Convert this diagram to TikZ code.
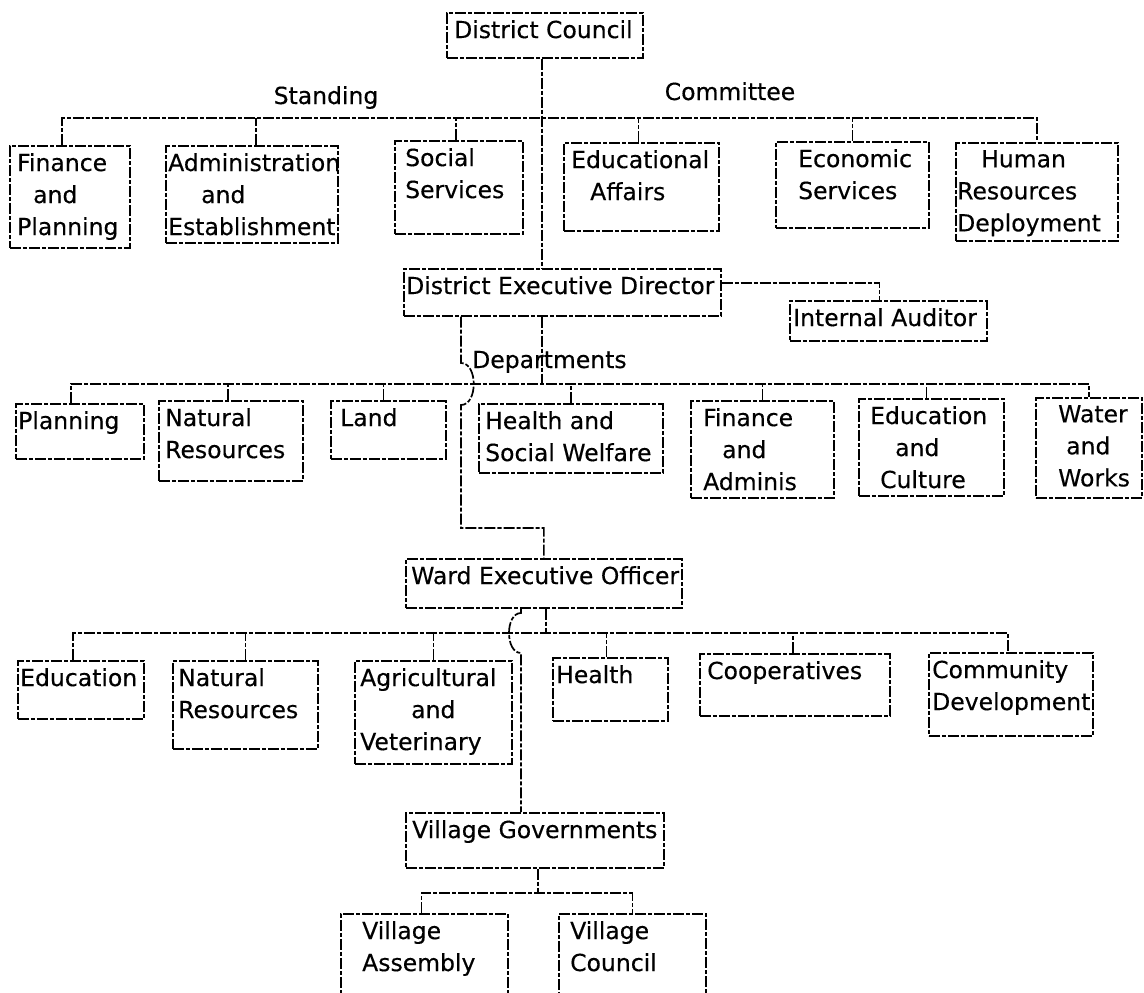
\documentclass[tikz,border=0pt]{standalone}
\usepackage{fontspec}
\setmainfont{DejaVu Sans}[FakeBold=0.35]
\begin{document}
\begin{tikzpicture}[x=1pt,y=-1pt,
  lnk/.style={line width=1.7pt, dash pattern=on 11pt off 2pt on 4pt off 2pt},
  obox/.style={draw, lnk, inner sep=0pt, anchor=north west},
  txt/.style={font=\fontsize{23.5}{32}\selectfont, inner sep=0pt, anchor=north west, align=left},
  lbl/.style={font=\fontsize{23.5}{32}\selectfont, inner sep=0pt}]
\useasboundingbox (0,0) rectangle (1144,993);
\clip (0,0) rectangle (1144,993);
% box macro: name, left, top, right, bottom
\newcommand\mybox[5]{\node[obox, minimum width={(#4-#2)*1pt}, minimum height={(#5-#3)*1pt}] (#1) at (#2,#3) {};}
\newcommand\mytext[4]{\node[txt] (#1-t) at ([shift={(#2pt,-#3pt)}]#1.north west) {#4};}
% ---------- boxes ----------
\mybox{dc}{446}{12}{642}{57}
\mybox{fp}{9}{145}{129}{247}
\mybox{adm}{165}{145}{337}{242}
\mybox{soc}{394}{140}{522}{233}
\mybox{edu}{563}{142}{718}{230}
\mybox{eco}{775}{141}{928}{227}
\mybox{hrd}{955}{142}{1117}{240}
\mybox{ded}{403}{268}{720}{315}
\mybox{ia}{789}{300}{986}{340}
\mybox{pl}{15}{403}{143}{458}
\mybox{nr}{158}{400}{302}{480}
\mybox{land}{330}{400}{445}{458}
\mybox{hsw}{478}{403}{662}{472}
\mybox{fa}{690}{400}{833}{497}
\mybox{ec}{858}{398}{1003}{495}
\mybox{ww}{1035}{397}{1141}{497}
\mybox{weo}{405}{558}{681}{607}
\mybox{wed}{17}{660}{143}{718}
\mybox{wnr}{172}{660}{317}{748}
\mybox{agr}{354}{660}{511}{763}
\mybox{hea}{552}{657}{667}{720}
\mybox{coop}{699}{653}{889}{715}
\mybox{cd}{928}{652}{1092}{735}
\mybox{vg}{405}{812}{663}{867}
\mybox{va}{340}{913}{507}{1010}
\mybox{vc}{558}{913}{705}{1010}
% ---------- texts ----------
\mytext{dc}{8}{8}{District Council}
\mytext{fp}{8}{8}{Finance\\\hspace*{16pt}and\\Planning}
\mytext{adm}{3}{8}{Administration\\\hspace*{33pt}and\\Establishment}
\mytext{soc}{11}{8}{Social\\Services}
\mytext{edu}{8}{8}{Educational\\\hspace*{19pt}Affairs}
\mytext{eco}{23}{8}{Economic\\Services}
\mytext{hrd}{2}{8}{\hspace*{24pt}Human\\Resources\\Deployment}
\mytext{ded}{3}{8}{District Executive Director}
\mytext{ia}{4}{8}{Internal Auditor}
\mytext{pl}{3}{8}{Planning}
\mytext{nr}{7}{8}{Natural\\Resources}
\mytext{land}{10}{8}{Land}
\mytext{hsw}{7}{8}{Health and\\Social Welfare}
\mytext{fa}{13}{8}{Finance\\\hspace*{19pt}and\\Adminis}
\mytext{ec}{12}{8}{Education\\\hspace*{25pt}and\\\hspace*{10pt}Culture}
\mytext{ww}{23}{8}{Water\\\hspace*{8pt}and\\Works}
\mytext{weo}{6}{8}{Ward Executive Officer}
\mytext{wed}{3}{8}{Education}
\mytext{wnr}{6}{8}{Natural\\Resources}
\mytext{agr}{6}{8}{Agricultural\\\hspace*{51pt}and\\Veterinary}
\mytext{hea}{4}{8}{Health}
\mytext{coop}{8}{8}{Cooperatives}
\mytext{cd}{4}{8}{Community\\Development}
\mytext{vg}{7}{8}{Village Governments}
\mytext{va}{22}{8}{Village\\Assembly}
\mytext{vc}{12}{8}{Village\\Council}
\node[lbl, anchor=base] (standing) at (326,104) {Standing};
\node[lbl, anchor=base] (committee) at (730,100) {Committee};
\node[lbl, anchor=base west] (departments) at (472,368) {Departments};
% ---------- junction coordinates ----------
\coordinate (tr) at (542,118);
\coordinate (dj) at (542,384);
\coordinate (h1) at (461,384);
\coordinate (b1) at (461,528);
\coordinate (wj) at (546,633);
\coordinate (h2) at (521,633);
\coordinate (vj) at (538,893);
% ---------- connectors ----------
% council and committees
\draw[lnk] (dc.south -| tr) -- (ded.north -| tr);
\draw[lnk] ([xshift=-8pt]fp.north) |- (tr) -| (hrd.north);
\draw[lnk] ([xshift=4pt]adm.north) -- ([xshift=4pt]adm.north |- tr);
\draw[lnk] ([xshift=-3pt]soc.north) -- ([xshift=-3pt]soc.north |- tr);
\draw[lnk] ([xshift=-3pt]edu.north) -- ([xshift=-3pt]edu.north |- tr);
\draw[lnk] (eco.north) -- (eco.north |- tr);
% auditor
\draw[lnk] ([yshift=9.5pt]ded.east) -| ([xshift=-9pt]ia.north);
% departments
\draw[lnk] (ded.south -| dj) -- (dj);
\draw[lnk] ([xshift=-9pt]pl.north) |- (dj) -| (ww.north);
\draw[lnk] ([xshift=-3pt]nr.north) -- ([xshift=-3pt]nr.north |- dj);
\draw[lnk] ([xshift=-5pt]land.north) -- ([xshift=-5pt]land.north |- dj);
\draw[lnk] (hsw.north) -- (hsw.north |- dj);
\draw[lnk] (fa.north) -- (fa.north |- dj);
\draw[lnk] ([xshift=-5pt]ec.north) -- ([xshift=-5pt]ec.north |- dj);
% DED to WEO with hop
\draw[lnk] (ded.south -| h1) -- ([yshift=21pt]h1)
  .. controls ([shift={(17pt,21pt)}]h1) and ([shift={(17pt,-21pt)}]h1) .. ([yshift=-21pt]h1)
  -- (b1) -| (weo.north);
% ward sections
\draw[lnk] (weo.south -| wj) -- (wj);
\draw[lnk] ([xshift=-8pt]wed.north) |- (wj) -| ([xshift=-3pt]cd.north);
\draw[lnk] (wnr.north) -- (wnr.north |- wj);
\draw[lnk] (agr.north) -- (agr.north |- wj);
\draw[lnk] ([xshift=-4pt]hea.north) -- ([xshift=-4pt]hea.north |- wj);
\draw[lnk] ([xshift=-2pt]coop.north) -- ([xshift=-2pt]coop.north |- wj);
% WEO to village governments with hop
\draw[lnk] (weo.south -| h2) -- ([yshift=20pt]h2)
  .. controls ([shift={(-16pt,20pt)}]h2) and ([shift={(-16pt,-20pt)}]h2) .. ([yshift=-20pt]h2)
  -- (vg.north -| h2);
% village
\draw[lnk] (vg.south -| vj) -- (vj);
\draw[lnk] ([xshift=-3pt]va.north) |- (vj) -| (vc.north);
\end{tikzpicture}
\end{document}
